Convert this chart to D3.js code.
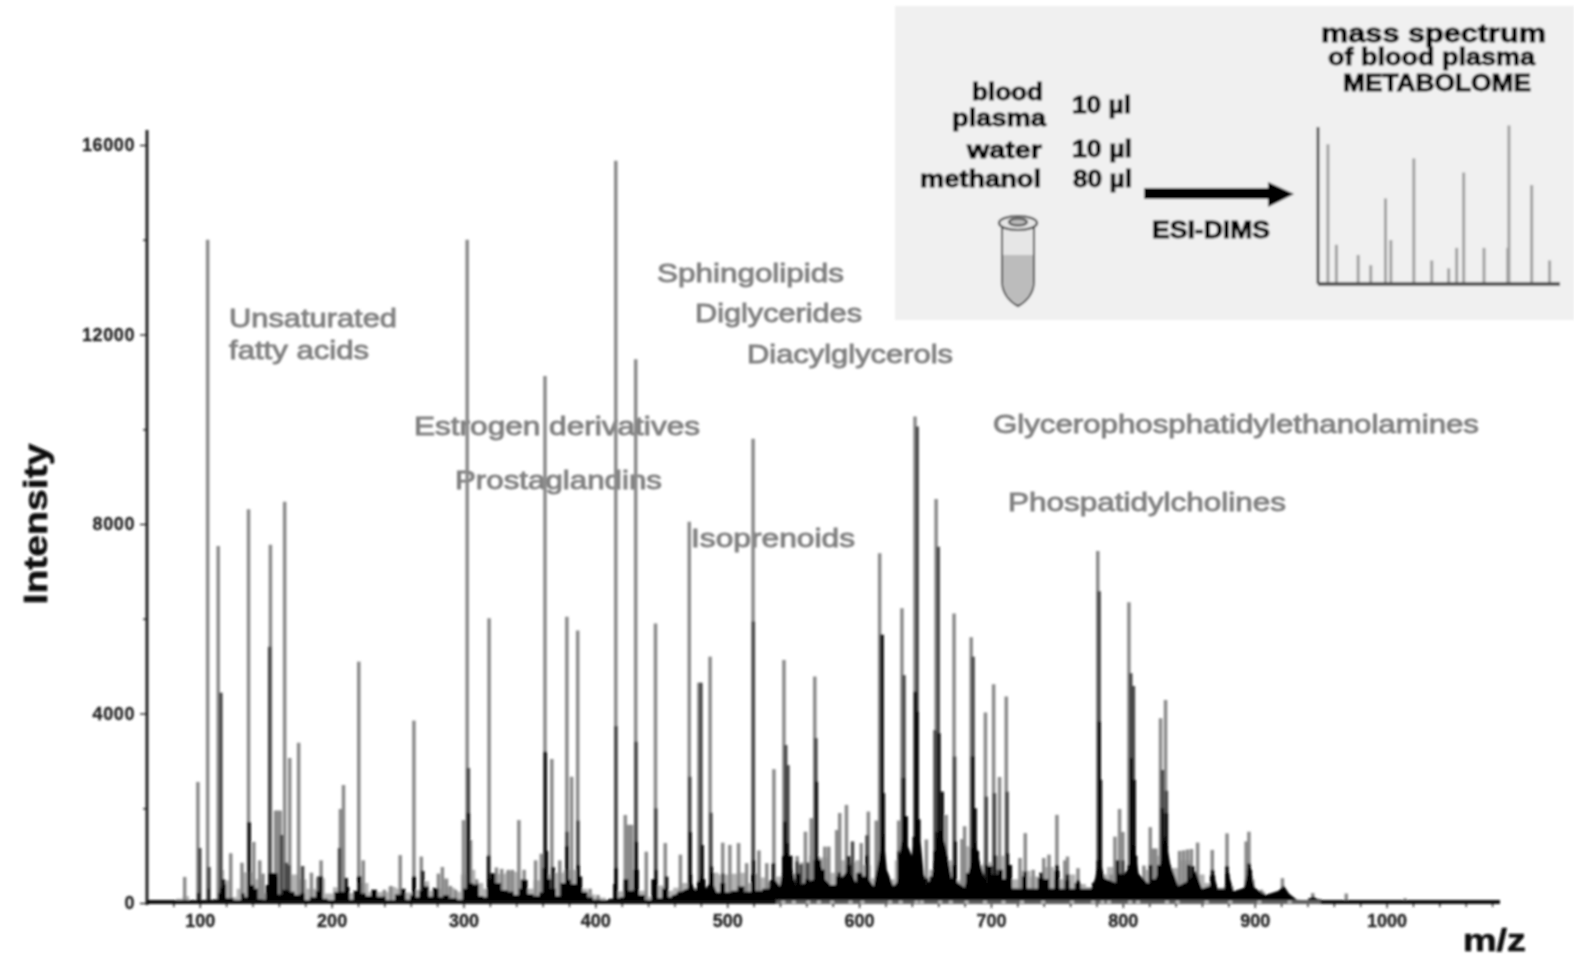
<!DOCTYPE html>
<html>
<head>
<meta charset="utf-8">
<script src="https://cdn.jsdelivr.net/npm/d3@7"></script>
<style>
  body { margin: 0; background: #fff; }
  svg { display: block; }
  text { font-family: "Liberation Sans", Arial, sans-serif; }
</style>
</head>
<body>
<div id="chart"></div>
<script>
const width = 1574, height = 958;

// tall light grey peaks [m/z, intensity]
const lightPeaks = [
  [88.6,550],[98.6,2555],[106,14000],[114,7536],[123.5,1050],[132,850],[137,8310],[141,1290],[145.5,900],[148,620],
  [153.6,7560],[157.5,1950],[159,1950],[161,1950],[164.4,8470],[168.2,3060],[175,3385],[184.7,640],[192,900],[206.7,1985],
  [209,2490],[220.6,5095],[224,900],[240,280],[245,360],[252,1010],[262.4,3850],[268,980],[281,620],[284,760],
  [287,500],[290,360],[294,280],[300,1750],[302.8,14000],[305.3,1330],[310,500],[319.4,6010],[325,750],[329,720],
  [334,700],[337,700],[342,1750],[346,700],[354.7,900],[359,1040],[361.8,11125],[367,3040],[373,900],[378.4,6040],
  [382,2665],[386.6,5750],[396,300],[402,170],[415.5,15670],[422.7,1857],[425,1650],[427.5,1650],[430.6,11475],[438.6,1083],
  [445.6,5900],[453,1265],[464.5,1020],[471.2,8050],[478.5,4650],[487,5200],[496.6,1273],[502,1225],[508.6,1265],[514.7,840],
  [519.6,9800],[524,1110],[530,840],[535.4,2825],[543,5130],[553,990],[559.3,1505],[563.7,1790],[566.4,4780],[574,1190],
  [577,1190],[583,1540],[585.3,1900],[590.4,2070],[601.6,1265],[607,1930],[613,1740],[615.6,7380],[630,1740],[632.5,6220],
  [642.4,10270],[651,1340],[658.4,8530],[666,1860],[672,6110],[678,1350],[680,1620],[685,5610],[695.8,4020],[702,4620],
  [706.5,2660],[711.6,4360],[722,950],[726,1475],[732,700],[740,950],[744,1020],[750,1860],[756,900],[758,980],
  [766,735],[781,7430],[791,600],[794,1400],[797.5,1985],[800,1500],[804.6,6350],[816,790],[820.8,1600],[823,1150],
  [825,1150],[828.6,3900],[832.4,4285],[843,1100],[846,1110],[849,1130],[852,1140],[856.7,1275],[867.8,1120],[879,1470],
  [893.5,1300],[895.6,1505],[905,280],[921,525],[944,210],[969.4,200],[1014,100]
];

// pale blocks of small peaks behind the foot [m/z, intensity]
const paleFoot = [
  [80,30],[84,90],[90,140],[94,50],[110,60],[116,700],[121,480],[126,120],[130,300],[134,650],[146,500],[150,200],
  [154,300],[170,600],[178,500],[184,300],[192,520],[198,200],[204,330],[214,210],[224,420],[232,230],[240,230],[246,340],
  [252,300],[258,220],[266,280],[272,460],[276,260],[282,300],[286,520],[291,320],[296,240],[300,600],[306,700],[312,420],
  [318,300],[324,620],[340,660],[344,500],[350,300],[356,480],[364,600],[372,640],[380,700],[392,300],[396,180],[404,110],
  [412,60],[418,250],[424,420],[430,300],[436,260],[441,130],[449,370],[456,260],[462,320],[468,420],[474,320],[482,300],
  [490,640],[497,600],[505,620],[512,640],[516,420],[522,620],[528,540],[533,440],[540,560],[552,620],[558,860],[566,1000],
  [574,960],[580,640],[588,900],[594,860],[600,900],[606,800],[612,520],[624,500],[630,900],[640,1000],[650,400],[656,700],
  [668,900],[676,480],[682,1200],[690,800],[698,860],[706,1000],[716,500],[726,680],[734,560],[744,760],[752,500],[760,600],
  [768,400],[776,340],[784,600],[792,760],[802,520],[814,500],[820,700],[830,1000],[840,740],[848,900],[858,600],[866,420],
  [874,320],[880,360],[888,240],[896,500],[904,240],[912,120],[924,150],[930,60],[950,20],[1086,10]
];

// darker mid-height peaks [m/z, intensity]
const midPeaks = [
  [100,1160],[107,760],[116,4440],[153,5410],[162,1435],[165.5,850],[167.5,800],[178,780],[190,560],[206,1160],
  [303.7,2850],[346,400],[378.5,1505],[386.8,1740],[415.6,3735],[430.8,3405],[445.8,2000],[471.6,2665],[480,4650],[487.6,1905],
  [496.6,620],[519.8,5940],[544.3,3335],[546,2910],[553,880],[556,820],[561,850],[567.2,3480],[595,1300],[606,1430],
  [617,5660],[630,1100],[634,4810],[644,10060],[657.6,3650],[660,7520],[672.4,3090],[686.4,5200],[696.4,2245],[702.6,2320],
  [712.2,2350],[782,6580],[800,900],[806,4850],[808,4580],[830,2810],[833,2370]
];

// black inner peaks [m/z, intensity]
const blackPeaks = [
  [116.5,320],[118,500],[137.5,1710],[140,380],[156,620],[158,550],[192,560],[211,530],[220.8,560],[262.3,560],
  [269,680],[278,320],[303.7,1900],[306,420],[319,1000],[322,620],[345,490],[362,3195],[363,1100],[368,760],
  [378.5,1200],[387,800],[415.6,740],[431,1294],[445.8,700],[454,560],[471.8,1500],[481,1225],[488,770],[520,900],
  [535,840],[543.8,1716],[545.5,1265],[553,620],[567.6,2560],[570,900],[585,640],[592,990],[600,640],[606,1000],
  [617.4,5660],[618.4,2320],[633.6,2640],[642.7,4460],[644,4040],[645,1760],[651,520],[659,1500],[660.5,3585],[663,2350],
  [672.8,1300],[686,3090],[688,2000],[696.5,800],[703,1000],[712.5,1050],[726,660],[738,640],[750,800],[758,600],
  [766,480],[782,3830],[783,2600],[796,900],[806.2,3060],[808.6,2600],[821,800],[830,2000],[833,1900],[850,800],
  [853,780],[868,700],[879,780],[895.6,830],[905,210],[920,250],[944,110],[969,50]
];

// solid black foot of the spectrum [m/z, intensity]
const footOutline = [
  [80,30],[97,40],[99,210],[101,60],[105,70],[106.5,300],[108,70],[113,80],[115,210],[119,390],[121,100],[130,40],
  [133,200],[135,120],[138,350],[142,300],[146,80],[149,70],[151,380],[153,630],[158,630],[160,180],[165,280],[170,240],
  [174,170],[178,200],[181,50],[186,120],[190,250],[194,90],[200,50],[204,230],[208,240],[212,340],[215,70],[218,260],
  [221,560],[224,200],[228,150],[232,280],[237,130],[245,60],[251,180],[254,300],[258,70],[261,160],[263,560],[265,120],
  [268,260],[272,350],[275,130],[279,300],[283,120],[286,170],[292,100],[298,70],[301,300],[304,390],[310,390],[313,150],
  [317,120],[319,500],[322,630],[326,420],[331,270],[336,240],[340,170],[344,300],[347,490],[350,190],[356,150],[359,220],
  [361,740],[364,500],[368,300],[372,150],[375,420],[379,490],[384,400],[388,560],[392,230],[396,120],[400,70],[408,60],
  [412,90],[415,400],[417,100],[420,120],[423,500],[427,260],[431,700],[435,170],[440,60],[445,500],[448,100],[453,300],
  [456,120],[460,170],[464,240],[470,280],[472,600],[475,280],[479,450],[482,500],[485,250],[488,640],[492,190],[497,420],
  [500,210],[506,260],[510,350],[516,240],[520,600],[523,260],[530,300],[534,480],[537,350],[540,300],[543,1000],[548,1000],
  [551,260],[554,620],[557,280],[561,500],[564,380],[567,900],[572,700],[576,280],[580,380],[585,560],[589,370],[592,800],
  [596,440],[600,630],[605,560],[609,370],[612,280],[615,700],[617,1200],[620,640],[624,380],[628,300],[631,1050],[635,1830],
  [639,780],[642,1400],[645,1760],[648,570],[652,260],[655,560],[658,1100],[661,1515],[665,900],[669,500],[672,800],[675,330],
  [679,280],[683,630],[686,1150],[689,1100],[693,600],[696,350],[699,780],[703,600],[707,700],[711,500],[714,800],[718,300],
  [722,290],[725,560],[729,300],[733,260],[738,520],[742,500],[746,300],[750,680],[754,280],[758,480],[761,240],[766,420],
  [770,210],[775,160],[778,430],[782,900],[786,500],[790,180],[794,360],[798,620],[802,360],[805,800],[809,1000],[813,380],
  [817,230],[820,420],[824,500],[828,800],[832,1200],[836,600],[840,280],[846,300],[851,480],[855,520],[859,200],[864,220],
  [868,580],[872,250],[876,200],[879,620],[883,170],[888,180],[892,300],[896,700],[900,240],[905,200],[910,100],[915,110],
  [919,220],[923,240],[927,80],[933,50],[938,40],[943,100],[948,80],[953,30],[968,30],[970,50],[973,25],[1013,25],
  [1014,40],[1016,20],[1086,20]
];

// sloped skirts around the strongest clusters [m/z, intensity]
const footHills = [
  [458,150],[470,300],[472,500],[476,250],[480,600],[484,300],[488,500],[492,220],[530,240],[536,500],[540,350],[544,1100],
  [548,900],[552,350],[566,500],[569,1000],[574,500],[580,320],[592,700],[598,420],[606,560],[611,350],[615,900],[618,1600],
  [621,700],[626,350],[629,450],[632,1300],[637,1200],[640,1000],[643,1750],[647,1200],[650,350],[655,520],[658,1200],[662,1550],
  [666,1150],[670,520],[680,320],[684,750],[688,1350],[692,800],[697,380],[712,520],[716,300],[776,300],[779,520],[782,1050],
  [786,520],[795,420],[804,720],[808,1350],[812,620],[822,320],[828,720],[832,1450],[836,820],[842,360],[850,470],[855,680],
  [860,300],[866,360],[868,680],[872,300],[877,300],[879,740],[884,250],[892,320],[896,840],[900,320],[908,170],[918,260],
  [922,370],[926,200],[932,70],[940,60],[944,140],[950,50],[960,30]
];

// specks of paper showing through the baseline from m/z 537 to 950
const fadedAxis = [537, 950];
const axisSpecks = [541,549,560,568,578,592,601,622,630,642,646,660,668,680,694,708,722,738,760,776,783,788,804,810,832,840,862,880,902,925];

const yLabelled = [0, 4000, 8000, 12000, 16000];
const yMinor = [2000, 6000, 10000, 14000];
const xLabelled = [100, 200, 300, 400, 500, 600, 700, 800, 900, 1000];
const xMinor = d3.range(80, 1081, 20).filter(d => d % 100 !== 0);

// little sketch spectrum in the inset: position and height in percent of its axes
const insetPeaks = [
  [4.1,89],[7.6,25],[16.6,18.5],[21.8,12],[27.9,54.5],[30.1,28],[39.6,80],[47,15],
  [54,10],[57.3,23],[60.2,71],[68.6,23],[78.4,23],[78.9,101],[88.3,63],[95.7,15]
];

const classLabels = ["Unsaturated", "fatty acids", "Sphingolipids", "Diglycerides", "Diacylglycerols",
  "Estrogen derivatives", "Prostaglandins", "Isoprenoids", "Glycerophosphatidylethanolamines", "Phospatidylcholines"];
const classBoxes = [[229,327,168],[229,359,140],[657,282,187],[695,322,167],[747,363,206],
  [414,435,286],[455,489,207],[691,547,164],[993,433,486],[1008,511,278]];

const insetTexts = [
  ["mass spectrum",1321,42,225,26],["of blood plasma",1328,65,207,24],["METABOLOME",1343,91,188,23],
  ["blood",972,100,71,23],["plasma",952,126,94,23],["water",967,158,75,23],["methanol",920,187,121,23],
  ["10 µl",1072,113,59,23],["10 µl",1072,157,60,23],["80 µl",1073,187,59,23],["ESI-DIMS",1152,238,118,23]
];

const svg = d3.select("#chart").append("svg")
  .attr("width", width)
  .attr("height", height);

// the reference is a soft jpeg
svg.append("defs").append("filter").attr("id", "soft")
  .attr("x", "-2%").attr("y", "-2%").attr("width", "104%").attr("height", "104%")
  .append("feGaussianBlur").attr("stdDeviation", 0.8);

const root = svg.append("g").attr("filter", "url(#soft)");

const x = d3.scaleLinear().domain([60, 1086]).range([147, 1500]);
const y = d3.scaleLinear().domain([0, 16000]).range([903, 145]);

// inset background
root.append("rect").attr("x", 895).attr("y", 6).attr("width", 679).attr("height", 314).attr("fill", "#f0f0f0");

// compound class labels sit under the peaks
root.selectAll(".cls").data(classLabels).enter().append("text")
  .attr("class", "cls")
  .attr("x", (d, i) => classBoxes[i][0])
  .attr("y", (d, i) => classBoxes[i][1])
  .attr("textLength", (d, i) => classBoxes[i][2])
  .attr("lengthAdjust", "spacingAndGlyphs")
  .attr("font-size", 26)
  .attr("fill", "#808080")
  .attr("stroke", "#808080")
  .attr("stroke-width", 0.9)
  .text(d => d);

function drawPeaks(peaks, colour, w) {
  root.append("g").selectAll("line").data(peaks).enter().append("line")
    .attr("x1", d => x(d[0])).attr("x2", d => x(d[0]))
    .attr("y1", y(0)).attr("y2", d => y(d[1]))
    .attr("stroke", colour)
    .attr("stroke-width", w);
}

root.append("path").datum(paleFoot)
  .attr("d", d3.area().curve(d3.curveStep).x(d => x(d[0])).y0(y(0)).y1(d => y(d[1])))
  .attr("fill", "#b4b4b4");

drawPeaks(lightPeaks, "#8a8a8a", 3.5);
drawPeaks(midPeaks, "#4a4a4a", 3.5);
drawPeaks(blackPeaks, "#0a0a0a", 3.5);

root.append("path").datum(footOutline)
  .attr("d", d3.area().curve(d3.curveStep).x(d => x(d[0])).y0(y(0)).y1(d => y(d[1])))
  .attr("fill", "#050505");
root.append("path").datum(footHills)
  .attr("d", d3.area().x(d => x(d[0])).y0(y(0)).y1(d => y(d[1])))
  .attr("fill", "#050505");

// axes
const yAxis = d3.axisLeft(y).tickValues(yLabelled).tickSize(7).tickFormat(d => d);
const yAxisMinor = d3.axisLeft(y).tickValues(yMinor).tickSize(4).tickFormat("");
const xAxis = d3.axisBottom(x).tickValues(xLabelled).tickSize(5).tickPadding(5).tickFormat(d => d);
const xAxisMinor = d3.axisBottom(x).tickValues(xMinor).tickSize(4).tickFormat("");

const yG = root.append("g").attr("transform", "translate(147,0)").call(yAxis);
const yM = root.append("g").attr("transform", "translate(147,0)").call(yAxisMinor);
const xG = root.append("g").attr("transform", "translate(0,903)").call(xAxis);
const xM = root.append("g").attr("transform", "translate(0,903)").call(xAxisMinor);

[yG, yM, xG, xM].forEach(g => {
  g.select(".domain").remove();
  g.selectAll("line").attr("stroke", "#222").attr("stroke-width", 1.4);
});
[yG, xG].forEach(g => {
  g.selectAll("text")
    .attr("font-size", 18)
    .attr("font-weight", "bold")
    .attr("fill", "#222")
    .attr("stroke", "#222")
    .attr("stroke-width", 0.3)
    .attr("font-family", '"Liberation Sans", Arial, sans-serif');
});
yG.selectAll("text").attr("dx", -2).attr("letter-spacing", 0.6);
xG.selectAll("text").attr("dy", "0.8em");

root.append("line").attr("x1", 147).attr("x2", 147).attr("y1", 130).attr("y2", 905)
  .attr("stroke", "#222").attr("stroke-width", 3);
root.append("line").attr("x1", 147).attr("x2", 1500).attr("y1", y(0) - 1).attr("y2", y(0) - 1)
  .attr("stroke", "#0a0a0a").attr("stroke-width", 4.2);
root.append("line").attr("x1", x(fadedAxis[0])).attr("x2", x(fadedAxis[1])).attr("y1", y(0) - 1).attr("y2", y(0) - 1)
  .attr("stroke", "#666").attr("stroke-width", 3.4);
root.append("g").selectAll("line").data(axisSpecks).enter().append("line")
  .attr("x1", d => x(d)).attr("x2", d => x(d) + 4)
  .attr("y1", y(0) - 1).attr("y2", y(0) - 1)
  .attr("stroke", "#c8c8c8").attr("stroke-width", 2);

root.append("text")
  .attr("transform", "translate(47,524) rotate(-90)")
  .attr("text-anchor", "middle")
  .attr("font-size", 33).attr("font-weight", "bold").attr("fill", "#111")
  .attr("stroke", "#111").attr("stroke-width", 0.6)
  .attr("textLength", 161).attr("lengthAdjust", "spacingAndGlyphs")
  .text("Intensity");

root.append("text")
  .attr("x", 1463).attr("y", 951)
  .attr("font-size", 31).attr("font-weight", "bold").attr("fill", "#111")
  .attr("stroke", "#111").attr("stroke-width", 0.6)
  .attr("textLength", 63).attr("lengthAdjust", "spacingAndGlyphs")
  .text("m/z");

// inset texts
root.selectAll(".ins").data(insetTexts).enter().append("text")
  .attr("class", "ins")
  .attr("x", d => d[1]).attr("y", d => d[2])
  .attr("textLength", d => d[3]).attr("lengthAdjust", "spacingAndGlyphs")
  .attr("font-size", d => d[4]).attr("font-weight", "bold").attr("fill", "#000")
  .attr("stroke", "#000").attr("stroke-width", 0.9)
  .text(d => d[0]);

// arrow
root.append("path")
  .attr("d", "M1144,188H1268V182L1294,194L1268,207V199H1144Z")
  .attr("fill", "#000");

// tube
const tube = root.append("g");
tube.append("path")
  .attr("d", "M1002,225V282Q1003,298 1018,306Q1033,298 1034,282V225Z")
  .attr("fill", "#e6e6e6").attr("stroke", "#3a3a3a").attr("stroke-width", 2);
tube.append("path")
  .attr("d", "M1003,255H1033V282Q1032,297 1018,304Q1004,297 1003,282Z")
  .attr("fill", "#bcbcbc");
tube.append("ellipse").attr("cx", 1018).attr("cy", 223).attr("rx", 19).attr("ry", 7)
  .attr("fill", "#e6e6e6").attr("stroke", "#3a3a3a").attr("stroke-width", 2.2);
tube.append("ellipse").attr("cx", 1018).attr("cy", 222).attr("rx", 9).attr("ry", 3.5)
  .attr("fill", "#bbb").attr("stroke", "#3a3a3a").attr("stroke-width", 2);

// inset spectrum
const ix = d3.scaleLinear().domain([0, 100]).range([1318, 1560]);
const iy = d3.scaleLinear().domain([0, 100]).range([284, 127]);

root.append("g").selectAll("line").data(insetPeaks).enter().append("line")
  .attr("x1", d => ix(d[0])).attr("x2", d => ix(d[0]))
  .attr("y1", iy(0)).attr("y2", d => iy(d[1]))
  .attr("stroke", "#a0a0a0").attr("stroke-width", 3);
root.append("line").attr("x1", ix(0)).attr("x2", ix(0)).attr("y1", iy(100)).attr("y2", iy(0))
  .attr("stroke", "#333").attr("stroke-width", 2.6);
root.append("line").attr("x1", ix(0)).attr("x2", ix(100)).attr("y1", iy(0)).attr("y2", iy(0))
  .attr("stroke", "#555").attr("stroke-width", 3.8);
</script>
</body>
</html>
